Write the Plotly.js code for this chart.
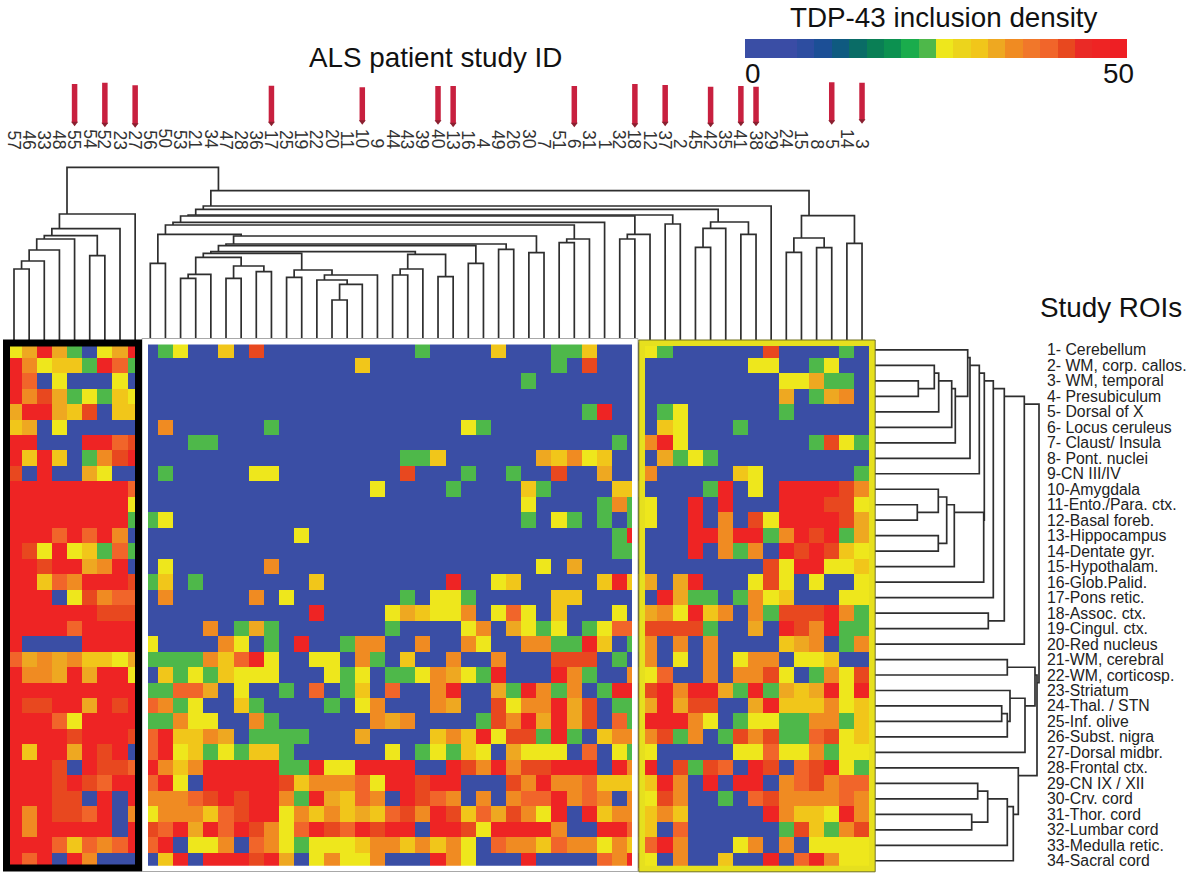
<!DOCTYPE html>
<html>
<head>
<meta charset="utf-8">
<script src="https://cdn.plot.ly/plotly-3.0.1.min.js"></script>
<style>html,body{margin:0;padding:0;background:#fff}</style>
</head>
<body>
<div id="chart" style="width:1200px;height:876px"></div>
<script>
// Patient IDs, left to right
const patientIds = [57,46,33,48,55,54,52,23,27,56,50,53,21,34,47,28,36,17,25,19,22,20,11,10,9,44,43,39,40,13,16,4,49,26,30,7,51,6,31,1,32,18,12,37,2,45,42,35,41,38,29,24,15,8,5,14,3];
// Regions of interest, top to bottom
const roiLabels = ["1- Cerebellum","2- WM, corp. callos.","3- WM, temporal","4- Presubiculum","5- Dorsal of X","6- Locus ceruleus","7- Claust/ Insula","8- Pont. nuclei","9-CN III/IV","10-Amygdala","11-Ento./Para. ctx.","12-Basal foreb.","13-Hippocampus","14-Dentate gyr.","15-Hypothalam.","16-Glob.Palid.","17-Pons retic.","18-Assoc. ctx.","19-Cingul. ctx.","20-Red nucleus","21-WM, cerebral","22-WM, corticosp.","23-Striatum","24-Thal. / STN","25-Inf. olive","26-Subst. nigra","27-Dorsal midbr.","28-Frontal ctx.","29-CN IX / XII","30-Crv. cord","31-Thor. cord","32-Lumbar cord","33-Medulla retic.","34-Sacral cord"];
// Density, one digit per patient; digit = index in levelDensity
const levelDensity = [0,24,26,30,33,35,40,42,46];
const densityRows = [
"24841 0248 01200 30700 00000 00010 00030 00113 000 21000 00070 00010",
"85233 1861 00000 00000 00003 00000 00000 00107 000 00000 00220 01200",
"86020 0020 00000 00000 00000 00000 00000 10000 000 00000 00002 24110",
"85741 2132 00000 00000 00000 00000 00000 00000 000 00000 00004 01450",
"48843 7033 00000 00000 00000 00000 00000 00001 800 01200 00001 00000",
"34020 0000 05000 00010 00000 00000 02100 00000 000 03200 01000 00000",
"88000 8867 00011 00000 00000 00000 00000 00000 010 58200 00000 01721",
"83830 1578 00000 00000 00000 00113 00000 04352 300 04121 00000 00000",
"70800 4200 01000 00220 00000 00700 01001 00700 400 50000 03200 00001",
"88888 8886 00000 00000 00000 20000 10000 31000 033 00001 80208 88875",
"88888 8882 00000 00000 00000 00000 00000 20000 151 20080 80008 88772",
"88888 8881 12000 00000 00000 00000 00000 10210 101 20080 50728 88874",
"88868 6850 00000 00000 20000 00000 00000 00000 018 00088 58815 87814",
"87282 3161 00000 00000 00000 00000 00000 00000 011 00080 51508 78732",
"88788 4580 02000 00050 00000 00000 00000 02040 000 00000 00072 88223",
"88365 8887 13010 00000 03000 00000 80023 00000 383 40480 00272 02002",
"88802 7566 05000 00502 00000 00102 21000 00330 000 08411 01523 00022",
"88888 8777 00000 00000 08000 02432 25026 20300 020 45283 50517 77851",
"88886 8888 00005 01410 00000 01000 02504 21201 266 77771 00408 75811",
"80000 8888 20000 52010 80015 50050 05200 55118 301 50505 00003 45015",
"64545 3324 11115 36820 02205 10300 50050 00777 010 50205 02550 22300",
"85548 4882 03121 32220 00212 01125 42180 00851 005 26005 05572 01527",
"88888 8888 11664 02001 06013 06005 80041 85150 188 78588 41814 34828",
"87788 4878 65120 03100 00102 50005 40072 55847 011 48477 00483 33523",
"88862 8888 11522 00510 00000 54500 00175 84847 061 88852 01221 15513",
"88887 8887 68335 40111 10004 00003 53827 71810 355 57150 17571 16723",
"83884 8780 68231 21331 00000 02012 13204 22206 021 20000 02262 25122",
"88870 8776 85358 88881 18228 88800 87585 77888 085 80717 60870 67821",
"88878 7688 68208 88887 35556 28878 80007 58556 333 38508 08805 67566",
"88877 0808 55567 87885 18436 50876 50505 66856 505 27500 10675 55565",
"85877 6805 25553 67882 53534 36758 73647 52808 355 35300 00085 33285",
"85888 8808 76848 68752 68768 78808 87288 88500 886 30600 00001 73157",
"88863 6568 68022 50652 12223 55353 52065 53655 253 68500 02505 02222",
"86808 5000 03808 88784 02522 50008 52000 80000 658 20500 30080 68522"
];
// Colour key, 22 blocks from 0 to 50
const keyColors = ["#3a4ea5","#3a4ea5","#3a4ca5","#2d4da0","#1c4f96","#0f5a80","#0a6c66","#0a7f55","#0c9150","#1aac4c","#4eb84a","#eee71c","#ecd41c","#f1c61a","#eea821","#f08b22","#f1772a","#f1652a","#e8481f","#ea2a26","#ee2424","#ee1f24"];
// Column dendrogram: [merge height, left branch, right branch]; a number is a column
const blackBranch = [126,[111.3,[104.3,[101,[90,[79,[71,0,1],2],3],4],[84.3,5,6]],7],8];
const treeT = [70,[62.7,18,19],[65,[60,20,[55.7,[40,21,22],23]],24]];
const treeM5 = [82.7,[65.7,[61.7,11,12],13],[74,[61.7,14,15],[68.3,16,17]]];
const treeM3r = [85.7,[71,[65,25,26],27],[63.3,28,29]];
const treeM3 = [88.3,[86.7,treeM5,treeT],treeM3r];
const treeN0 = [105.7,[76.7,9,10],[104,[96,[94.3,treeM3,[76.7,30,31]],[90.7,32,33]],[87.3,34,35]]];
const treeN2 = [117.7,[115,treeN0,[101,[97.3,36,37],38]],39];
const treeN4 = [125,[124,treeN2,[105.7,[101,40,41],42]],[116,43,44]];
const treeN6 = [134,[130.7,treeN4,[118,[111.7,[92.7,45,46],47],[105.7,48,49]]],50];
const yellowBranch = [124.3,[102,[87.7,51,52],[92.3,53,54]],[96.7,55,56]];
const columnTree = [172.7,blackBranch,[149.3,treeN6,yellowBranch]];
// Row dendrogram, same form; a number is a row
const rowU8 = [107.3,[98,[95.7,0,[83.3,[79.7,[66.7,[62.3,1,[46.3,2,3]],4],5],6]],7],8];
const rowG6 = [111.7,[82.3,[74.7,[66.3,9,[45.3,10,11]],[66.3,12,13]],14],15];
const rowU12 = [152.3,[132.3,[121.3,[112.3,rowU8,rowG6],16],[116.3,17,18]],19];
const rowA = [163,[135.3,20,21],[153,[138,22,[135.3,[129.7,23,24],25]],26]];
const rowB = [146.3,27,[141.3,[135.3,[115.7,[105.7,28,29],[99.7,30,31]],32],33]];
const rowTree = [167,rowU12,[165,rowA,rowB]];
// Marked patients: pin top and tip, as heights on the column-tree scale
const pinPatients = [55,52,27,17,10,40,13,6,18,37,42,41,38,5,3];
const pinTops = [256,257.3,254.7,254.3,252.7,254,254,254,256,255,253.3,254,253.3,257.7,257.3];
const pinTips = [214.3,213.3,212.7,214.3,215.7,215.7,213.3,213.3,212.7,214.3,213.3,214.3,214.3,215.7,216.7];

const W = 1200, H = 876;
const px = v => v / W, py = v => 1 - v / H;

const zRows = densityRows.map(r => r.replace(/ /g, '').split('').map(d => levelDensity[+d]));
const colorscale = [];
keyColors.forEach((c, i) => { colorscale.push([i / 22, c]); colorscale.push([(i + 1) / 22, c]); });

function treePath(node, out) {
  if (typeof node === 'number') return {pos: node, h: 0};
  const a = treePath(node[1], out), b = treePath(node[2], out), h = node[0];
  out.pos.push(a.pos, a.pos, b.pos, b.pos, null);
  out.h.push(a.h, h, h, b.h, null);
  return {pos: a.pos + 0.5, h};
}
const topPath = {pos: [], h: []}; treePath(columnTree, topPath);
const sidePath = {pos: [], h: []}; treePath(rowTree, sidePath);

const pinCols = pinPatients.map(p => patientIds.indexOf(p));
const pinX = [], pinY = [];
pinCols.forEach((c, i) => { pinX.push(c, c, null); pinY.push(pinTops[i], pinTips[i] + 3, null); });

const traces = [
  {type: 'heatmap', z: zRows, x: patientIds.map((_, i) => i), y: roiLabels.map((_, i) => i),
   colorscale, zmin: 0, zmax: 50, hoverinfo: 'skip', xaxis: 'x', yaxis: 'y',
   colorbar: {orientation: 'h', x: px(936), xanchor: 'center', y: py(58), yanchor: 'bottom',
     len: 382, lenmode: 'pixels', thickness: 19, thicknessmode: 'pixels', outlinewidth: 0,
     borderwidth: 0, ticks: '', showticklabels: false, xpad: 0, ypad: 0}},
  {type: 'scatter', mode: 'lines', x: topPath.pos, y: topPath.h, xaxis: 'x', yaxis: 'y2',
   line: {color: '#2e2e2e', width: 1.7}, hoverinfo: 'skip', showlegend: false, connectgaps: false},
  {type: 'scatter', mode: 'lines', x: sidePath.h, y: sidePath.pos, xaxis: 'x2', yaxis: 'y',
   line: {color: '#2e2e2e', width: 1.7}, hoverinfo: 'skip', showlegend: false, connectgaps: false},
  {type: 'scatter', mode: 'lines', x: pinX, y: pinY, xaxis: 'x', yaxis: 'y2',
   line: {color: '#c8203f', width: 5.5}, hoverinfo: 'skip', showlegend: false},
  {type: 'scatter', mode: 'markers', x: pinCols, y: pinTips.map(t => t + 2.5), xaxis: 'x', yaxis: 'y2',
   marker: {symbol: 'triangle-down', size: 6, color: '#8a2030'}, hoverinfo: 'skip', showlegend: false}
];

function rect(x0, y0, x1, y1, color, width) {
  return {type: 'rect', xref: 'paper', yref: 'paper', x0: px(x0), x1: px(x1), y0: py(y0), y1: py(y1),
          line: {color, width}, fillcolor: 'rgba(0,0,0,0)', layer: 'above'};
}
const shapes = [
  rect(145, 341.5, 635, 868.7, '#ffffff', 6),
  rect(142, 338.5, 638, 871.5, '#a8a8a8', 1),
  rect(642, 343, 872, 868.7, '#e6e01e', 6),
  rect(638.8, 340, 875.2, 871.8, '#70701f', 1),
  rect(6.5, 343, 138.5, 868, '#000000', 7)
];

const sans = '"Liberation Sans", Arial, sans-serif';
const note = (text, x, y, size) => ({text, x: px(x), y: py(y), xref: 'paper', yref: 'paper', showarrow: false,
  font: {family: sans, size, color: '#111'}, xanchor: 'center', yanchor: 'middle'});
const annotations = [
  note('ALS patient study ID', 435, 58, 27.8),
  note('TDP-43 inclusion density', 944, 18, 27.8),
  note('Study ROIs', 1111, 307, 27.8),
  note('0', 753, 73, 27.8),
  note('50', 1118, 73, 27.8)
];
patientIds.forEach((id, i) => annotations.push({text: String(id), x: i, y: 191, xref: 'x', yref: 'y2',
  showarrow: false, textangle: 90, xanchor: 'center', yanchor: 'bottom',
  font: {family: sans, size: 17.5, color: '#333'}, borderpad: 0, borderwidth: 0}));
roiLabels.forEach((t, i) => annotations.push({text: t, x: px(1047), y: i, xref: 'paper', yref: 'y',
  showarrow: false, xanchor: 'left', yanchor: 'middle',
  font: {family: sans, size: 15.8, color: '#222'}, borderpad: 0, borderwidth: 0}));

const hidden = {visible: false, showgrid: false, zeroline: false, fixedrange: true};
const layout = {
  width: W, height: H, autosize: false, margin: {l: 0, r: 0, t: 0, b: 0, pad: 0},
  paper_bgcolor: '#fff', plot_bgcolor: '#fff', showlegend: false, hovermode: false,
  xaxis: {...hidden, domain: [px(6.43), px(869.6)], range: [-0.5, 56.5], anchor: 'y'},
  yaxis: {...hidden, domain: [py(868.5), py(342.2)], range: [33.5, -0.5], anchor: 'x'},
  yaxis2: {...hidden, domain: [py(340), py(70)], range: [0, 270], anchor: 'x'},
  xaxis2: {...hidden, domain: [px(872), px(1040)], range: [0, 168], anchor: 'y'},
  shapes, annotations
};
Plotly.newPlot('chart', traces, layout, {displayModeBar: false, staticPlot: true});
</script>
</body>
</html>
